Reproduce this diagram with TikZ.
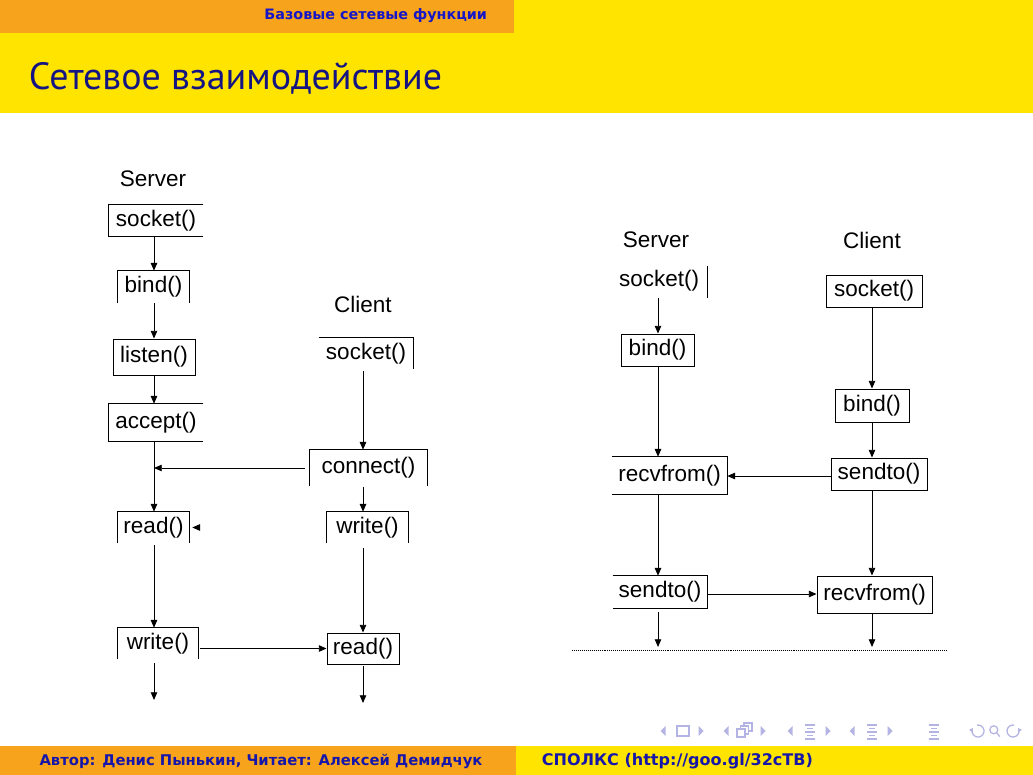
\documentclass[tikz,border=0pt]{standalone}
\usepackage{fontspec}
\setmainfont{Liberation Sans}
\newfontfamily\slidefont{PT Sans}
\newfontfamily\barfont{DejaVu Sans}
\usetikzlibrary{arrows.meta, positioning}
\definecolor{barorange}{RGB}{247,163,28}
\definecolor{baryellow}{RGB}{255,228,0}
\definecolor{headblue}{RGB}{22,22,200}
\definecolor{titleblue}{RGB}{20,20,130}
\definecolor{footblue}{RGB}{22,22,170}
\definecolor{navlilac}{RGB}{180,180,228}
\tikzset{
  fn/.style={rectangle, inner sep=0pt, align=center,
    font=\fontsize{16}{18}\selectfont},
  box/.style={fn, draw, line width=0.65pt},
  lbl/.style={font=\fontsize{16}{18}\selectfont},
  arrow/.style={-{Triangle[length=5.5pt,width=4.6pt]}, line width=0.65pt},
  line/.style={line width=0.65pt},
  dotline/.style={line width=0.5pt, dash pattern=on 0.7pt off 0.7pt},
  navline/.style={draw=navlilac, line width=0.9pt}
}

\begin{document}
\begin{tikzpicture}[x=0.025cm, y=-0.025cm]
  \useasboundingbox (0,0) rectangle (1033,775);
  \fill[white] (0,0) rectangle (1033,775);

  % slide head and foot
  \fill[barorange] (0,0) rectangle (514,33);
  \fill[baryellow] (514,0) rectangle (1033,113);
  \fill[baryellow] (0,33) rectangle (514,113);
  \fill[barorange] (0,746) rectangle (516,775);
  \fill[baryellow] (516,746) rectangle (1033,775);
  \node[anchor=east, text=headblue, font=\barfont\bfseries\fontsize{10.2}{12}\selectfont]
    (section) at (492,16) {Базовые сетевые функции};
  \node[anchor=west, text=titleblue, font=\slidefont\fontsize{27}{30}\selectfont]
    (title) at (24,78) {Сетевое взаимодействие};
  \node[text=footblue, font=\barfont\bfseries\fontsize{10.5}{12}\selectfont]
    (author) at (261,761) {Автор: Денис Пынькин, Читает: Алексей Демидчук};
  \node[anchor=west, text=footblue, font=\barfont\bfseries\fontsize{11.4}{13}\selectfont]
    (course) at (537,761) {СПОЛКС (http://goo.gl/32cTB)};

  % navigation symbols
  \foreach \x in {663,726,790,852}
    \fill[navlilac] (\x+2.5,726) -- (\x-2.5,731) -- (\x+2.5,736) -- cycle;
  \foreach \x in {701,763,828,890}
    \fill[navlilac] (\x-2.5,726) -- (\x+2.5,731) -- (\x-2.5,736) -- cycle;
  \draw[navline] (677,726) rectangle (689,736);
  \draw[navline, fill=white] (744,723) rectangle (752,731);
  \draw[navline, fill=white] (740.5,726) rectangle (748.5,734);
  \draw[navline, fill=white] (737,729) rectangle (745,737);
  \foreach \x in {810,872,934} {
    \draw[navline] (\x-5,725) -- (\x+5,725);
    \draw[navline] (\x-3,728.5) -- (\x+3,728.5);
    \draw[navline] (\x-5,732) -- (\x+5,732);
    \draw[navline] (\x-3,735.5) -- (\x+3,735.5);
    \draw[navline] (\x-5,739) -- (\x+5,739);
  }
  \draw[navline, -{Triangle[length=2.5pt,width=3pt]}]
    ([shift={(100:0.15cm)}]978,731) arc[start angle=100, end angle=-210, radius=0.15cm];
  \draw[navline] ([shift={(-0.03cm,0.03cm)}]995,731) circle[radius=0.1cm];
  \draw[navline] ([shift={(0.04cm,-0.04cm)}]995,731) -- ([shift={(0.12cm,-0.14cm)}]995,731);
  \draw[navline, -{Triangle[length=2.5pt,width=3pt]}]
    ([shift={(80:0.15cm)}]1013,731) arc[start angle=80, end angle=390, radius=0.15cm];

  % TCP: server and client
  \coordinate (slane) at (154,0);
  \coordinate (clane) at (363,0);
  \node[lbl] (shead) at (153,179) {Server};
  \node[lbl] (chead) at (363,304) {Client};

  \node[fn, minimum width=2.35cm, minimum height=0.775cm] (ssock) at (156,220.5) {socket()};
  \node[fn, minimum width=1.775cm, minimum height=0.8cm] (sbind) at (153.5,287) {bind()};
  \node[box, minimum width=2.05cm, minimum height=0.9cm] (slisten) at (154,357) {listen()};
  \node[fn, minimum width=2.35cm, minimum height=0.925cm] (saccept) at (156,422.5) {accept()};
  \node[fn, minimum width=1.775cm, minimum height=0.775cm] (sread) at (153.5,527.5) {read()};
  \node[fn, minimum width=2.0cm, minimum height=0.775cm] (swrite) at (158,643.5) {write()};

  \node[fn, minimum width=2.35cm, minimum height=0.775cm] (csock) at (366,353.5) {socket()};
  \node[fn, minimum width=2.925cm, minimum height=0.9cm] (cconn) at (368.5,468) {connect()};
  \node[fn, minimum width=2.025cm, minimum height=0.775cm] (cwrite) at (367.5,527.5) {write()};
  \node[box, minimum width=1.8cm, minimum height=0.775cm] (cread) at (363,648.5) {read()};

  % open box borders
  \draw[line] (ssock.north east) -- (ssock.north west) -- (ssock.south west) -- (ssock.south east);
  \draw[line] (sbind.south west) -- (sbind.north west) -- (sbind.north east) -- (sbind.south east);
  \draw[line] (saccept.north east) -- (saccept.north west) -- (saccept.south west) -- (saccept.south east);
  \draw[line] (sread.south west) -- (sread.north west) -- (sread.north east) -- (sread.south east);
  \draw[line] (swrite.south west) -- (swrite.north west) -- (swrite.north east) -- (swrite.south east);
  \draw[line] (csock.north west) -- (csock.north east) -- (csock.south east);
  \draw[line] (cconn.south west) -- (cconn.north west) -- (cconn.north east) -- (cconn.south east);
  \draw[line] (cwrite.south west) -- (cwrite.north west) -- (cwrite.north east) -- (cwrite.south east);

  \draw[arrow] (ssock.south -| slane) -- (sbind.north -| slane);
  \draw[arrow] (sbind.south -| slane) -- (slisten.north -| slane);
  \draw[arrow] (slisten.south -| slane) -- (saccept.north -| slane);
  \draw[arrow] (saccept.south -| slane) -- (sread.north -| slane);
  \draw[arrow, shorten <=0.125cm] (cconn.west) -- (cconn.west -| slane);
  \draw[arrow] ([xshift=0.25cm]sread.east) -- ([xshift=0.075cm]sread.east);
  \draw[arrow, shorten <=0.05cm] (sread.south -| slane) -- (swrite.north -| slane);
  \draw[arrow, shorten <=0.05cm] (csock.south -| clane) -- (cconn.north -| clane);
  \draw[arrow, shorten <=0.025cm] (cconn.south -| clane) -- (cwrite.north -| clane);
  \draw[arrow, shorten <=0.125cm] (cwrite.south -| clane) -- (cread.north -| clane);
  \draw[arrow, shorten <=0.05cm] (swrite.east |- cread.west) -- (cread.west);

  \coordinate (send) at (154,700);
  \coordinate (cend) at (363,703);
  \draw[arrow, shorten <=0.1cm] (swrite.south -| slane) -- (send);
  \draw[arrow, shorten <=0.05cm] (cread.south -| clane) -- (cend);

  % UDP: server and client
  \coordinate (rslane) at (658,0);
  \coordinate (rclane) at (872,0);
  \node[lbl] (rshead) at (656,240) {Server};
  \node[lbl] (rchead) at (872,240) {Client};

  \node[fn, minimum width=2.4cm, minimum height=0.85cm] (rssock) at (659,281) {socket()};
  \node[box, minimum width=1.825cm, minimum height=0.8cm] (rsbind) at (657.5,350) {bind()};
  \node[fn, minimum width=2.875cm, minimum height=0.925cm] (rsrecv) at (669.5,475.5) {recvfrom()};
  \node[fn, minimum width=2.35cm, minimum height=0.8cm] (rssend) at (660,592) {sendto()};

  \node[box, minimum width=2.4cm, minimum height=0.8cm] (rcsock) at (874,291) {socket()};
  \node[box, minimum width=1.85cm, minimum height=0.825cm] (rcbind) at (872,405.5) {bind()};
  \node[box, minimum width=2.4cm, minimum height=0.8cm] (rcsend) at (879,474) {sendto()};
  \node[box, minimum width=2.875cm, minimum height=0.925cm] (rcrecv) at (874.5,594.5) {recvfrom()};

  \draw[line] ([yshift=-0.05cm]rssock.north east) -- (rssock.south east);
  \draw[line] (rsrecv.north west) -- (rsrecv.north east) -- (rsrecv.south east) -- (rsrecv.south west);
  \draw[line] (rssend.north west) -- (rssend.north east) -- (rssend.south east) -- (rssend.south west);

  \draw[arrow] (rssock.south -| rslane) -- (rsbind.north -| rslane);
  \draw[arrow] (rsbind.south -| rslane) -- (rsrecv.north -| rslane);
  \draw[arrow] (rsrecv.south -| rslane) -- (rssend.north -| rslane);
  \draw[arrow] (rcsock.south -| rclane) -- (rcbind.north -| rclane);
  \draw[arrow] (rcbind.south -| rclane) -- (rcsend.north -| rclane);
  \draw[arrow] (rcsend.south -| rclane) -- (rcrecv.north -| rclane);
  \draw[arrow] ([yshift=-0.05cm]rcsend.west) -- ([yshift=-0.05cm]rcsend.west -| rsrecv.east);
  \draw[arrow] ([yshift=-0.05cm]rssend.east) -- ([yshift=-0.05cm]rssend.east -| rcrecv.west);

  \coordinate (rsend) at (658,647);
  \coordinate (rcend) at (872,647);
  \draw[arrow, shorten <=0.1cm] (rssend.south -| rslane) -- (rsend);
  \draw[arrow] (rcrecv.south -| rclane) -- (rcend);

  \coordinate (dotl) at (572,650);
  \coordinate (dotr) at (948,650);
  \draw[dotline] (dotl) -- (dotr);
\end{tikzpicture}
\end{document}
